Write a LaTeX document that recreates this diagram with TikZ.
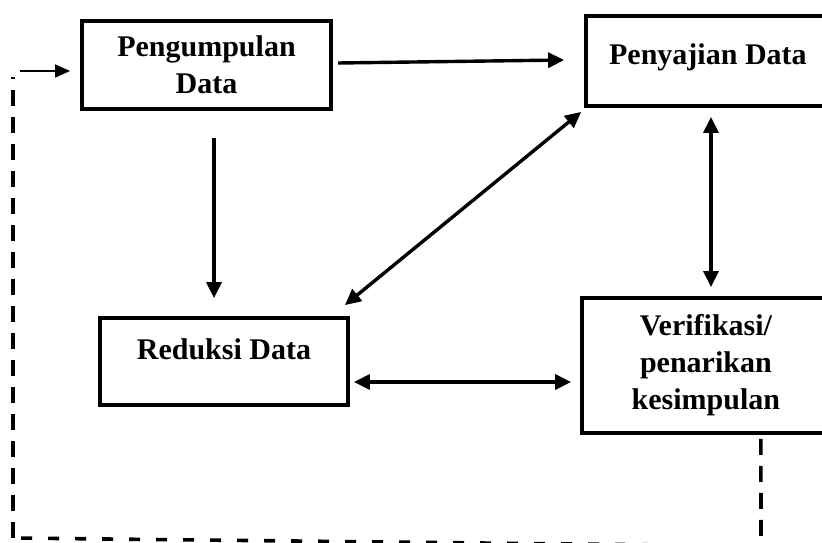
\documentclass[tikz,border=0pt]{standalone}
\usepackage{fontspec}
\setmainfont{Liberation Serif}
\usetikzlibrary{arrows.meta,calc}
\begin{document}
\begin{tikzpicture}[x=1pt,y=-1pt,
  box/.style={draw,line width=3.8pt,rectangle,inner sep=0pt,align=center,
    font=\bfseries\fontsize{30}{37}\selectfont},
  conn/.style={line width=3.4pt,-{Triangle[length=16pt,width=15pt]}},
  dconn/.style={line width=3.4pt,{Triangle[length=16pt,width=15pt]}-{Triangle[length=16pt,width=15pt]}},
  vdash/.style={line width=3.6pt,dash pattern=on 16pt off 11pt},
  hdash/.style={line width=3.6pt,dash pattern=on 11pt off 16pt}]
\useasboundingbox (0,0) rectangle (822,543);
\clip (0,0) rectangle (822,543);
\fill[white] (0,0) rectangle (822,543);

\node[box,minimum width=249.6pt,minimum height=88.6pt] (peng) at (206.5,65) {Pengumpulan\\Data};
\node[box,minimum width=244.3pt,minimum height=90.6pt,text height=20pt,text depth=14pt] (peny) at (707.9,61) {Penyajian Data};
\node[box,minimum width=248.6pt,minimum height=87.6pt,text height=20pt,text depth=25pt] (red) at (224,361.5) {Reduksi Data};
\node[box,minimum width=248.3pt,minimum height=135.6pt] (ver) at (705.9,365.5) {Verifikasi/\\penarikan\\kesimpulan};

\draw[conn] ($(peng.east)+(5,-2)$) -- ($(peny.west)+(-19.7,-1)$);
\draw[conn] ($(peng.south)+(7.5,27)$) -- ($(red.north)+(-10,-17.7)$);
\draw[dconn] ($(red.north east)+(-5.3,-10.7)$) -- ($(peny.south west)+(-2.7,3.7)$);
\draw[dconn] ($(peny.south)+(3.1,8.7)$) -- ($(ver.north)+(5.1,-8.7)$);
\draw[dconn] ($(red.east)+(3.7,20.5)$) -- ($(ver.west)+(-8.7,16.5)$);

\coordinate (fbr) at (761,546);
\coordinate (fbl) at (13,538);
\coordinate (ftl) at (13,77);
\coordinate (fa) at (20,71);
\draw[vdash] ($(ver.south)+(55,3.7)$) -- (fbr);
\draw[hdash] (fbr) -- (fbl);
\draw[vdash] (fbl) -- (ftl);
\draw[line width=1.6pt,-{Triangle[length=15pt,width=13pt]}] (fa) -- ($(peng.west)+(-9.7,6)$);
\end{tikzpicture}
\end{document}
